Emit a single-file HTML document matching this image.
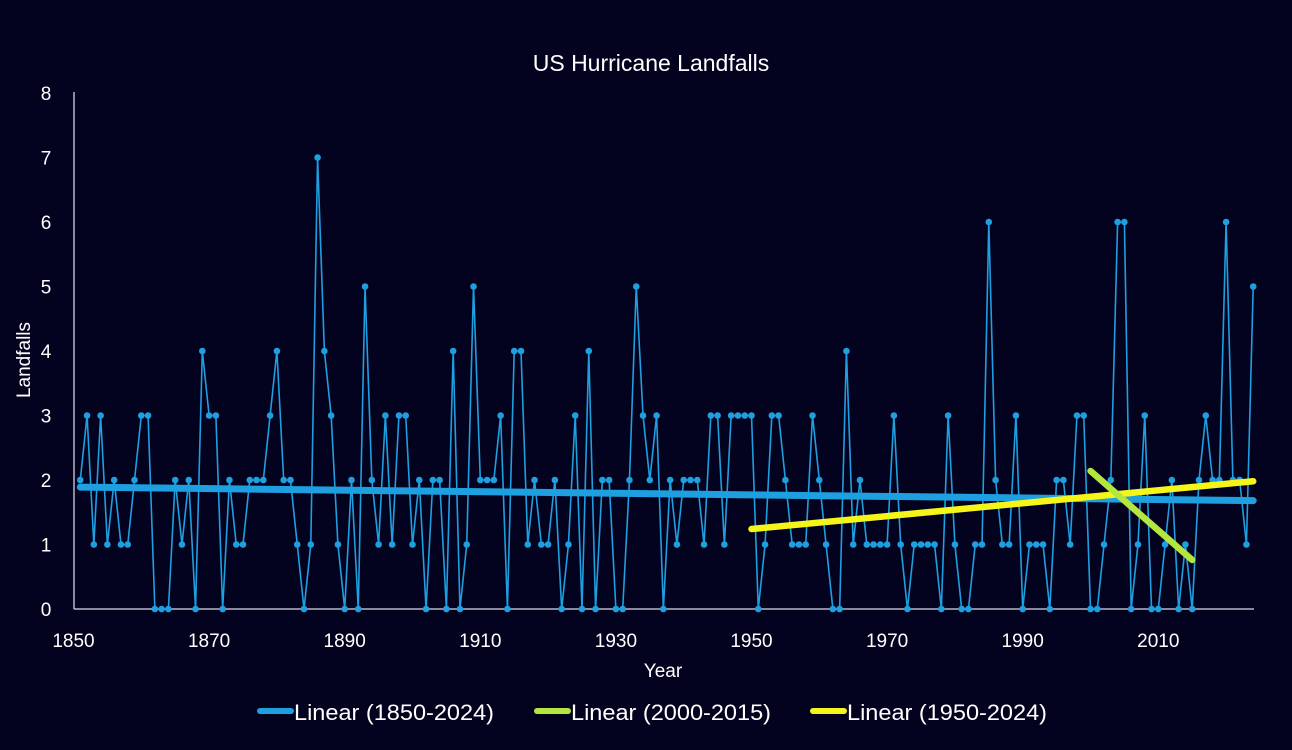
<!DOCTYPE html>
<html><head><meta charset="utf-8"><style>
html,body{margin:0;padding:0;background:#03031f;}
svg{display:block;font-family:"Liberation Sans",sans-serif;}
</style></head><body>
<svg id="chart" width="1292" height="750" viewBox="0 0 1292 750">
<rect width="1292" height="750" fill="#03031f"/>
<text x="651" y="71" fill="#ffffff" font-size="23" text-anchor="middle">US Hurricane Landfalls</text>
<text transform="translate(30,360) rotate(-90)" fill="#ffffff" font-size="19" text-anchor="middle">Landfalls</text>
<text x="663" y="677" fill="#ffffff" font-size="19" text-anchor="middle">Year</text>
<g id="axes"></g>
<g id="series"></g>
<g id="trends"></g>
<g id="legend"></g>
</svg>
<script>
const startYear = 1851;
const landfalls = [
2,3,1,3,1,2,1,1,2,3,3,0,0,0,2,1,2,0,4,3,3,0,2,1,1,2,2,2,3,4,2,2,1,0,1,7,4,3,1,0,2,0,
5,2,1,3,1,3,3,1,2,0,2,2,0,4,0,1,5,2,2,2,3,0,4,4,1,2,1,1,2,0,1,3,0,4,0,2,2,0,0,2,5,3,2,3,0,2,
1,2,2,2,1,3,3,1,3,3,3,3,0,1,3,3,2,1,1,1,3,2,1,0,0,4,1,2,1,1,1,1,3,1,0,1,1,1,1,0,3,1,
0,0,1,1,6,2,1,1,3,0,1,1,1,0,2,2,1,3,3,0,0,1,2,6,6,0,1,3,0,0,1,2,0,1,0,2,3,2,2,6,2,2,1,5];
const xTicks = [1850,1870,1890,1910,1930,1950,1970,1990,2010];
const yTicks = [0,1,2,3,4,5,6,7,8];
const trendNames = ["Linear (1850-2024)","Linear (2000-2015)","Linear (1950-2024)"];
const trendYears = [[1851,2024],[2000,2015],[1950,2024]];
const trendValues = [[1.89,1.68],[2.14,0.76],[1.24,1.98]];
const trendColors = ["#1e9fe0","#b5e640","#f5f51a"];

const NS="http://www.w3.org/2000/svg";
const X0=73.5, XS=6.78, Y0=609, YS=64.5;
const xs=y=>X0+(y-1850)*XS;
const ys=v=>Y0-v*YS;
function mk(tag,attrs,parent){const e=document.createElementNS(NS,tag);for(const k in attrs)e.setAttribute(k,attrs[k]);parent.appendChild(e);return e;}
const axes=document.getElementById('axes');
let e=mk('line',{x1:74,y1:92,x2:74,y2:609,stroke:'#b8b8c8','stroke-width':1.5},axes);


e=mk('line',{x1:74,y1:609,x2:1254,y2:609,stroke:'#b8b8c8','stroke-width':1.5},axes);


yTicks.forEach(t=>{const tx=mk('text',{x:46,y:ys(t)+7,fill:'#fff','font-size':19,'text-anchor':'middle'},axes);tx.textContent=t;

});
xTicks.forEach(t=>{const tx=mk('text',{x:xs(t),y:647,fill:'#fff','font-size':19,'text-anchor':'middle'},axes);tx.textContent=t;

});
const ser=document.getElementById('series');
const pts=landfalls.map((v,i)=>xs(startYear+i)+','+ys(v)).join(' ');
e=mk('polyline',{points:pts,fill:'none',stroke:'#1e9fe0','stroke-width':1.6},ser);


landfalls.forEach((v,i)=>{const c=mk('circle',{cx:xs(startYear+i),cy:ys(v),r:3.3,fill:'#1e9fe0'},ser);

});
const tr=document.getElementById('trends');
[0,2,1].forEach(k=>{const l=mk('line',{x1:xs(trendYears[k][0]),y1:ys(trendValues[k][0]),x2:xs(trendYears[k][1]),y2:ys(trendValues[k][1]),stroke:trendColors[k],'stroke-width':k===0?7:6.5,'stroke-linecap':'round'},tr);

});
const lg=document.getElementById('legend');
const lx=[260,537,813];
trendNames.forEach((n,k)=>{const g=mk('g',{},lg);


mk('line',{x1:lx[k],y1:711,x2:lx[k]+31,y2:711,stroke:trendColors[k],'stroke-width':6,'stroke-linecap':'round'},g);
const t=mk('text',{x:lx[k]+34,y:720,fill:'#fff','font-size':22,textLength:200,lengthAdjust:'spacingAndGlyphs'},g);t.textContent=n;});
</script>
</body></html>
